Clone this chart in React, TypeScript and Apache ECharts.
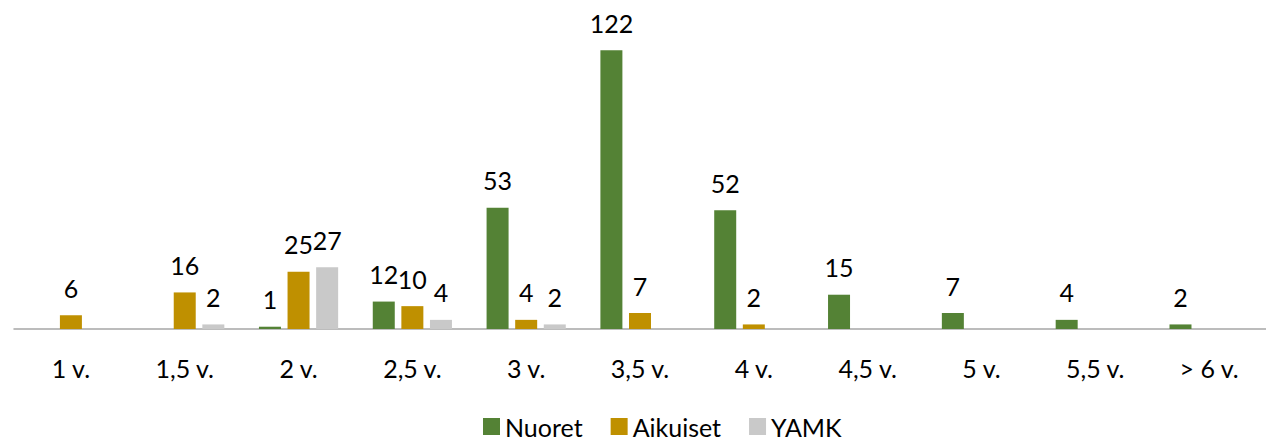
import React, { useEffect, useRef } from "react";
import * as echarts from "echarts";

const categories = ["1 v.", "1,5 v.", "2 v.", "2,5 v.", "3 v.", "3,5 v.", "4 v.", "4,5 v.", "5 v.", "5,5 v.", "> 6 v."];
const nuoret = [null, null, 1, 12, 53, 122, 52, 15, 7, 4, 2];
const aikuiset = [6, 16, 25, 10, 4, 7, 2, null, null, null, null];
const yamk = [null, 2, 27, 4, 2, null, null, null, null, null, null];

const FONT = "Lato";

export default function App() {
  const ref = useRef<HTMLDivElement>(null);
  useEffect(() => {
    if (!ref.current) return;
    const chart = echarts.init(ref.current, null, { renderer: "svg" });
    const label = {
      show: true,
      position: "top",
      distance: 15,
      color: "#000",
      fontFamily: FONT,
      fontSize: 25,
    };
    const mk = (name: string, data: (number | null)[], color: string) => ({
      name,
      type: "bar",
      data,
      barWidth: 22,
      barGap: "30%",
      itemStyle: { color },
      label,
    });
    chart.setOption({
      animation: false,
      textStyle: { fontFamily: FONT },
      grid: { left: 14, top: 9, width: 1254, height: 320, containLabel: false },
      xAxis: {
        type: "category",
        data: categories,
        axisLine: { lineStyle: { color: "#a6a6a6", width: 1.5 } },
        axisTick: { show: false },
        axisLabel: { color: "#000", fontFamily: FONT, fontSize: 25, margin: 26 },
      },
      yAxis: { type: "value", min: 0, max: 140, show: false, splitLine: { show: false } },
      legend: {
        left: 478,
        top: 409,
        itemWidth: 17,
        itemHeight: 17,
        itemGap: 28,
        icon: "rect",
        textStyle: { color: "#000", fontFamily: FONT, fontSize: 25 },
        data: ["Nuoret", "Aikuiset", "YAMK"],
      },
      series: [
        mk("Nuoret", nuoret, "#548235"),
        mk("Aikuiset", aikuiset, "#bf9000"),
        mk("YAMK", yamk, "#c9c9c9"),
      ],
    });
    return () => chart.dispose();
  }, []);
  return (
    <div
      ref={ref}
      style={{ position: "absolute", left: 0, top: 0, width: 1266, height: 440, background: "#fff" }}
    />
  );
}
